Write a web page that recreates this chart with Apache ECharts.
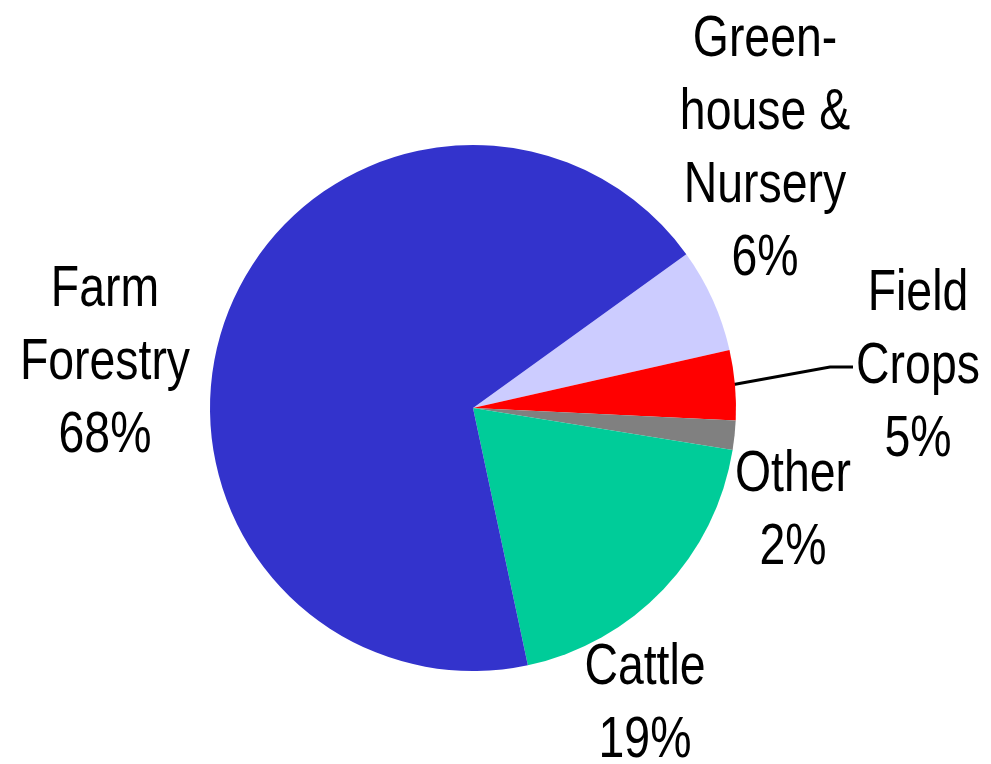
<!DOCTYPE html>
<html>
<head>
<meta charset="utf-8">
<script src="https://cdn.jsdelivr.net/npm/echarts@6/dist/echarts.min.js"></script>
<style>
  html, body { margin: 0; padding: 0; background: #fff; }
  #chart { width: 991px; height: 764px; }
</style>
</head>
<body>
<div id="chart"></div>
<script>
// 扇区顺序：从右上方开始顺时针
const categories = ['Green-\nhouse &\nNursery', 'Field\nCrops', 'Other', 'Cattle', 'Farm\nForestry']
const shares = [6.4, 4.3, 1.8, 19.1, 68.4]
const pctLabels = ['6%', '5%', '2%', '19%', '68%']
const colors = ['#CCCCFF', '#FF0000', '#808080', '#00CC99', '#3333CC']

// 标签中心位置
const labelPos = [
  [765, 149],
  [918, 367],
  [793, 511],
  [645, 704],
  [105, 363]
]

const chart = echarts.init(document.getElementById('chart'))

// 窄体字体不可用，用横向缩放模拟
const labelGraphics = categories.map((name, i) => ({
  type: 'text',
  x: labelPos[i][0],
  y: labelPos[i][1],
  scaleX: 0.8,
  silent: true,
  style: {
    text: name + '\n' + pctLabels[i],
    fill: '#000',
    fontFamily: '"Liberation Sans", Arial, sans-serif',
    fontSize: 58,
    lineHeight: 73,
    align: 'center',
    verticalAlign: 'middle'
  }
}))

const option = {
  animation: false,
  graphic: [
    ...labelGraphics,
    // Field Crops 引导线
    {
      type: 'polyline',
      silent: true,
      shape: { points: [[731, 385], [830, 367], [853, 367]] },
      style: { stroke: '#000', lineWidth: 3, fill: null }
    }
  ],
  series: [{
    type: 'pie',
    center: [473, 408],
    radius: 263,
    startAngle: 35.8,
    clockwise: true,
    itemStyle: { borderWidth: 0 },
    label: { show: false },
    labelLine: { show: false },
    data: categories.map((name, i) => ({
      name,
      value: shares[i],
      itemStyle: { color: colors[i] }
    }))
  }]
}

chart.setOption(option)
</script>
</body>
</html>
